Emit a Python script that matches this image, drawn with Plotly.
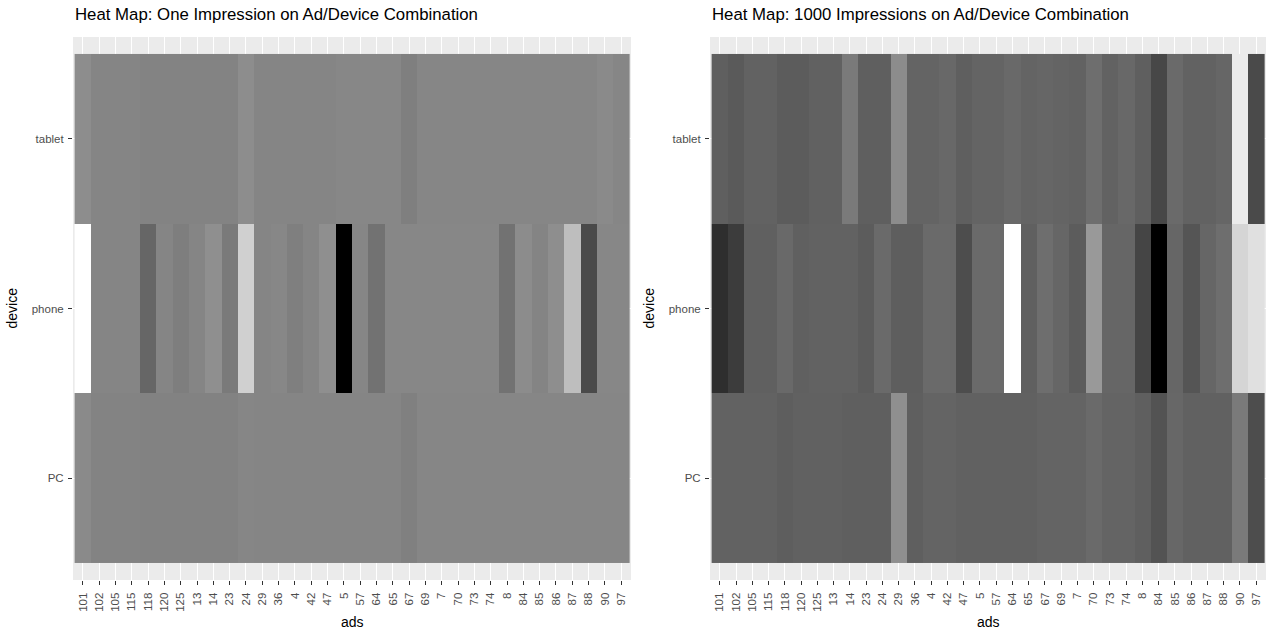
import plotly.graph_objects as go

# ---- data (gray shade 0=black .. 255=white) ----
ads = ["101", "102", "105", "115", "118", "120", "125", "13", "14", "23", "24", "29",
       "36", "4", "42", "47", "5", "57", "64", "65", "67", "69", "7", "70", "73", "74",
       "8", "84", "85", "86", "87", "88", "90", "97"]
devices = ["PC", "phone", "tablet"]

one_pc = [138, 131, 131, 131, 130, 130, 130, 130, 130, 130, 134, 133, 133, 133, 133, 133,
          133, 133, 133, 133, 128, 134, 134, 134, 134, 134, 134, 134, 134, 134, 134, 134,
          134, 134]
one_phone = [255, 133, 133, 133, 102, 133, 126, 133, 143, 122, 208, 133, 135, 127, 133, 143,
             0, 134, 114, 135, 135, 135, 135, 135, 135, 135, 114, 140, 132, 142, 190, 74,
             135, 135]
one_tablet = [141, 133, 133, 133, 131, 131, 131, 131, 131, 131, 141, 133, 133, 133, 133, 133,
              135, 135, 135, 135, 127, 134, 134, 134, 134, 134, 134, 134, 134, 134, 134, 134,
              138, 134]

k_pc = [98, 98, 98, 98, 94, 97, 97, 97, 95, 95, 95, 143, 95, 100, 100, 97,
        97, 97, 97, 97, 100, 100, 100, 106, 100, 100, 95, 83, 103, 97, 97, 97,
        122, 77]
k_phone = [46, 60, 96, 96, 105, 96, 98, 98, 98, 92, 106, 94, 94, 106, 106, 77,
           106, 106, 255, 96, 110, 102, 92, 153, 102, 102, 69, 0, 102, 85, 102, 110,
           213, 224]
k_tablet = [95, 90, 98, 98, 92, 92, 97, 97, 122, 95, 95, 140, 100, 100, 104, 95,
            100, 100, 105, 100, 102, 100, 98, 110, 98, 104, 95, 71, 106, 98, 98, 102,
            235, 74]

titles = ["Heat Map: One Impression on Ad/Device Combination",
          "Heat Map: 1000 Impressions on Ad/Device Combination"]

W, H = 1266, 634
FONT = "Liberation Sans, Arial, Helvetica, sans-serif"
gray_scale = [[0, "rgb(0,0,0)"], [1, "rgb(255,255,255)"]]

fig = go.Figure()
fig.add_trace(go.Heatmap(x=ads, y=devices, z=[one_pc, one_phone, one_tablet],
                         colorscale=gray_scale, zmin=0, zmax=255, showscale=False,
                         xaxis="x", yaxis="y"))
fig.add_trace(go.Heatmap(x=ads, y=devices, z=[k_pc, k_phone, k_tablet],
                         colorscale=gray_scale, zmin=0, zmax=255, showscale=False,
                         xaxis="x2", yaxis="y2"))

# panel pixel boxes
left_px = (73, 631)
right_px = (710, 1266)
top_px, bot_px = 37, 580

def xdom(p):
    return [p[0] / W, p[1] / W]

ydom = [(H - bot_px) / H, (H - top_px) / H]

axis_common = dict(showgrid=True, gridcolor="white", gridwidth=1.2, zeroline=False,
                   showline=False, ticks="outside", ticklen=4, tickwidth=1,
                   tickcolor="#333333", tickfont=dict(family=FONT, size=11.5, color="#4D4D4D"),
                   fixedrange=True)

xa = dict(axis_common, type="category", categoryorder="array", categoryarray=ads,
          range=[-0.6, len(ads) - 0.4], tickangle=-90, ticklabelstandoff=3)
ya = dict(axis_common, type="category", categoryorder="array", categoryarray=devices,
          range=[-0.6, len(devices) - 0.4], ticklabelstandoff=2)

fig.update_layout(
    width=W, height=H,
    margin=dict(l=0, r=0, t=0, b=0),
    paper_bgcolor="white",
    plot_bgcolor="#EBEBEB",
    font=dict(family=FONT),
    xaxis=dict(xa, domain=xdom(left_px), anchor="y"),
    yaxis=dict(ya, domain=ydom, anchor="x"),
    xaxis2=dict(xa, domain=xdom(right_px), anchor="y2"),
    yaxis2=dict(ya, domain=ydom, anchor="x2"),
)

annotations = []
for i, p in enumerate([left_px, right_px]):
    annotations.append(dict(text=titles[i], x=p[0] / W, y=1 - 15 / H, xref="paper", yref="paper",
                            xanchor="left", yanchor="middle", showarrow=False,
                            font=dict(family=FONT, size=16.8, color="black")))
    annotations.append(dict(text="ads", x=(p[0] + p[1]) / 2 / W, y=1 - 622 / H,
                            xref="paper", yref="paper", xanchor="center", yanchor="middle",
                            showarrow=False, font=dict(family=FONT, size=14, color="black")))
    annotations.append(dict(text="device", x=(p[0] - 62) / W, y=1 - ((top_px + bot_px) / 2) / H,
                            xref="paper", yref="paper", xanchor="center", yanchor="middle",
                            textangle=-90, showarrow=False,
                            font=dict(family=FONT, size=14, color="black")))
fig.update_layout(annotations=annotations)

fig.write_html("out.html", config={"displayModeBar": False},
               post_script="document.body.style.margin='0';document.body.style.overflow='hidden';")
